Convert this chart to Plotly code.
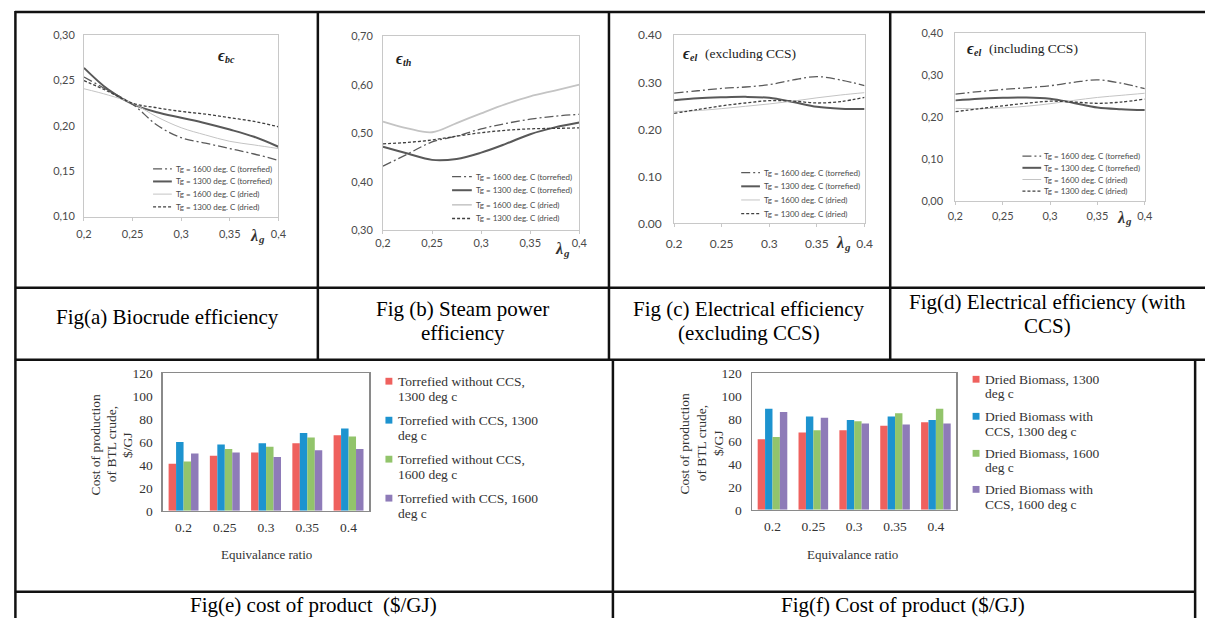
import plotly.graph_objects as go

W, H = 1213, 626

# ---------------- data ----------------
lam = [0.2, 0.225, 0.25, 0.275, 0.3, 0.325, 0.35, 0.375, 0.4]
lam_ticks = [0.2, 0.25, 0.3, 0.35, 0.4]
lam_text_comma = ["0,2", "0,25", "0,3", "0,35", "0,4"]
lam_text_dot = ["0.2", "0.25", "0.3", "0.35", "0.4"]
series_names = ["Tg = 1600 deg. C (torrefied)", "Tg = 1300 deg. C (torrefied)",
                "Tg = 1600 deg. C (dried)", "Tg = 1300 deg. C (dried)"]

# (a) biocrude efficiency
bc_t1600 = [0.254, 0.239, 0.224, 0.201, 0.187, 0.181, 0.175, 0.169, 0.162]
bc_t1300 = [0.264, 0.240, 0.224, 0.215, 0.209, 0.203, 0.196, 0.188, 0.177]
bc_d1600 = [0.241, 0.234, 0.225, 0.210, 0.198, 0.190, 0.183, 0.179, 0.175]
bc_d1300 = [0.250, 0.238, 0.225, 0.220, 0.216, 0.213, 0.209, 0.205, 0.199]
bc_yticks = [0.10, 0.15, 0.20, 0.25, 0.30]
bc_ytext = ["0,10", "0,15", "0,20", "0,25", "0,30"]

# (b) steam power efficiency
th_t1600 = [0.432, 0.457, 0.482, 0.494, 0.509, 0.520, 0.529, 0.535, 0.539]
th_t1300 = [0.472, 0.458, 0.445, 0.447, 0.460, 0.478, 0.498, 0.512, 0.522]
th_d1600 = [0.524, 0.510, 0.502, 0.521, 0.541, 0.560, 0.576, 0.588, 0.600]
th_d1300 = [0.478, 0.481, 0.486, 0.494, 0.501, 0.506, 0.509, 0.510, 0.511]
th_yticks = [0.30, 0.40, 0.50, 0.60, 0.70]
th_ytext = ["0,30", "0,40", "0,50", "0,60", "0,70"]

# (c) electrical efficiency excluding CCS
elx_t1600 = [0.277, 0.282, 0.287, 0.290, 0.295, 0.305, 0.312, 0.305, 0.293]
elx_t1300 = [0.262, 0.266, 0.268, 0.269, 0.267, 0.258, 0.248, 0.244, 0.243]
elx_d1600 = [0.238, 0.240, 0.244, 0.249, 0.254, 0.260, 0.267, 0.273, 0.278]
elx_d1300 = [0.234, 0.242, 0.250, 0.256, 0.261, 0.260, 0.256, 0.259, 0.268]
el_yticks = [0.0, 0.1, 0.2, 0.3, 0.4]
elx_ytext = ["0.00", "0.10", "0.20", "0.30", "0.40"]

# (d) electrical efficiency including CCS
eli_t1600 = [0.255, 0.261, 0.266, 0.270, 0.275, 0.283, 0.289, 0.281, 0.268]
eli_t1300 = [0.240, 0.244, 0.246, 0.247, 0.244, 0.234, 0.223, 0.219, 0.217]
eli_d1600 = [0.221, 0.220, 0.222, 0.226, 0.232, 0.240, 0.247, 0.252, 0.257]
eli_d1300 = [0.213, 0.220, 0.227, 0.233, 0.238, 0.236, 0.233, 0.236, 0.243]
eli_ytext = ["0,00", "0,10", "0,20", "0,30", "0,40"]

# (e) / (f) cost of product
eq_ratio = ["0.2", "0.25", "0.3", "0.35", "0.4"]
e_names = ["Torrefied without CCS,|1300 deg c", "Torrefied with CCS, 1300|deg c",
           "Torrefied without CCS,|1600 deg c", "Torrefied with CCS, 1600|deg c"]
e_t1300 = [41, 48, 51, 59, 66]
e_t1300_ccs = [60, 58, 59, 68, 72]
e_t1600 = [43, 54, 56, 64, 65]
e_t1600_ccs = [50, 51, 47, 53, 54]
f_names = ["Dried Biomass, 1300|deg c", "Dried Biomass with|CCS, 1300 deg c",
           "Dried Biomass, 1600|deg c", "Dried Biomass with|CCS, 1600 deg c"]
f_d1300 = [62, 68, 70, 74, 77]
f_d1300_ccs = [89, 82, 79, 82, 79]
f_d1600 = [64, 70, 78, 85, 89]
f_d1600_ccs = [86, 81, 76, 75, 76]
cost_yticks = [0, 20, 40, 60, 80, 100, 120]

captions = [
    ("Fig(a) Biocrude efficiency", 162, [317]),
    ("Fig (b) Steam power|efficiency", 461, [309, 334]),
    ("Fig (c) Electrical efficiency|(excluding CCS)", 751, [309, 334]),
    ("Fig(d) Electrical efficiency (with|CCS)", 1053, [302, 326]),
    ("Fig(e) cost of product  ($/GJ)", 310, [613]),
    ("Fig(f) Cost of product ($/GJ)", 907, [613]),
]

# ---------------- styles ----------------
line_styles = [
    dict(color="#5a5a5a", width=1.3, dash="9px,3px,2px,3px"),
    dict(color="#595959", width=2.0, dash="solid"),
    dict(color="#c4c4c4", width=1.2, dash="solid"),
    dict(color="#404040", width=1.3, dash="3px,2px"),
]
bar_colors = ["#EF615E", "#1D93CF", "#92C46B", "#8E7BB8"]
SERIF = "Liberation Serif"
SANS = "Lato"


def px_x(x):
    return x / W


def px_y(y):
    return 1 - y / H


def dom_x(x0, x1):
    return [x0 / W, x1 / W]


def dom_y(y0, y1):
    return [1 - y1 / H, 1 - y0 / H]


fig = go.Figure()
annotations = []
shapes = []


def ann(x, y, text, size, family=SERIF, color="#000000", xanchor="center",
        yanchor="middle", textangle=0, weight="normal", style="normal"):
    annotations.append(dict(x=px_x(x), y=px_y(y), xref="paper", yref="paper",
                            text=text, showarrow=False, xanchor=xanchor,
                            yanchor=yanchor, textangle=textangle,
                            font=dict(family=family, size=size, color=color,
                                      weight=weight, style=style)))


def symbol_with_sub(x0, y, main, sub, size_main, size_sub, color):
    # main glyph ends near x0, subscript starts just after it and sits lower
    ann(x0 + 1, y, main, size_main, color=color, xanchor="right",
        weight="bold", style="italic")
    ann(x0 - 3, y + 4, sub, size_sub, color=color, xanchor="left",
        weight="bold", style="italic")


# ---------------- line panels ----------------
line_panels = [
    dict(ax="", data=[bc_t1600, bc_t1300, bc_d1600, bc_d1300], xd=(77, 274), yd=(28, 214),
         yr=[0.10, 0.30], yt=bc_yticks, ytx=bc_ytext, xtx=lam_text_comma, fs=11,
         sx=4, sy=6, light_w=1.0,
         sub="bc", epos=(221, 49), extra=None,
         lam=(254, 233),
         leg=dict(lx=(147, 166), tx=168, ys=[165, 178, 191, 204])),
    dict(ax="2", data=[th_t1600, th_t1300, th_d1600, th_d1300], xd=(380, 579), yd=(29, 228),
         yr=[0.30, 0.70], yt=th_yticks, ytx=th_ytext, xtx=lam_text_comma, fs=11,
         sx=0, sy=7, light_w=1.8,
         sub="th", epos=(401, 52), extra=None,
         lam=(563, 247),
         leg=dict(lx=(450, 470), tx=472, ys=[173, 187, 202, 216])),
    dict(ax="3", data=[elx_t1600, elx_t1300, elx_d1600, elx_d1300], xd=(675, 868), yd=(28, 221),
         yr=[0.0, 0.40], yt=el_yticks, ytx=elx_ytext, xtx=lam_text_dot, fs=12,
         sx=6, sy=9, light_w=1.0,
         sub="el", epos=(692, 47), extra=("(excluding CCS)", 704),
         lam=(848, 241),
         leg=dict(lx=(743, 762), tx=764, ys=[169, 183, 197, 211])),
    dict(ax="4", data=[eli_t1600, eli_t1300, eli_d1600, eli_d1300], xd=(960, 1152), yd=(26, 198),
         yr=[0.0, 0.40], yt=el_yticks, ytx=eli_ytext, xtx=lam_text_comma, fs=11,
         sx=2, sy=9, light_w=1.0,
         sub="el", epos=(980, 42), extra=("(including CCS)", 992),
         lam=(1133, 215),
         leg=dict(lx=(1028, 1047), tx=1048, ys=[152, 164, 176, 188])),
]

layout_axes = {}
for p in line_panels:
    ax = p["ax"]
    for i, (ys, st) in enumerate(zip(p["data"], line_styles)):
        st = dict(st)
        if i == 2:
            st["width"] = p["light_w"]
        fig.add_trace(go.Scatter(x=lam, y=ys, mode="lines", name=series_names[i],
                                 line=dict(shape="spline", smoothing=1.0, **st),
                                 xaxis="x" + ax, yaxis="y" + ax, showlegend=False,
                                 hoverinfo="skip"))
    layout_axes["xaxis" + ax] = dict(
        domain=dom_x(*p["xd"]), anchor="y" + ax, range=[0.2, 0.4],
        tickvals=lam_ticks, ticktext=p["xtx"], showgrid=False, zeroline=False,
        showline=True, linecolor="#c8c8c8", linewidth=1, mirror=True,
        ticks="outside", ticklen=3, tickcolor="#c8c8c8",
        ticklabelstandoff=p["sx"],
        tickfont=dict(family=SANS, size=p["fs"], color="#4a4a4a"), fixedrange=True)
    layout_axes["yaxis" + ax] = dict(
        domain=dom_y(*p["yd"]), anchor="x" + ax, range=p["yr"],
        tickvals=p["yt"], ticktext=p["ytx"], showgrid=False, zeroline=False,
        showline=True, linecolor="#c8c8c8", linewidth=1, mirror=True,
        ticks="", ticklabelstandoff=p["sy"],
        tickfont=dict(family=SANS, size=p["fs"], color="#4a4a4a"), fixedrange=True)
    symbol_with_sub(p["epos"][0], p["epos"][1], "ϵ", p["sub"], 16, 10, "#222222")
    if p["extra"]:
        ann(p["extra"][1], p["epos"][1], p["extra"][0], 13.5, family=SERIF,
            color="#222222", xanchor="left")
    symbol_with_sub(p["lam"][0], p["lam"][1], "λ", "g", 16, 11, "#333333")
    lg = p["leg"]
    for i, y in enumerate(lg["ys"]):
        st = dict(line_styles[i])
        if i == 2:
            st["width"] = max(1.0, p["light_w"] - 0.3)
        shapes.append(dict(type="line", xref="paper", yref="paper",
                           x0=px_x(lg["lx"][0]), x1=px_x(lg["lx"][1]),
                           y0=px_y(y), y1=px_y(y), line=st))
        ann(lg["tx"], y, series_names[i], 8, family=SANS, color="#4a4a4a",
            xanchor="left")

# ---------------- bar panels ----------------
bar_panels = [
    dict(ax="5", names=e_names, data=[e_t1300, e_t1300_ccs, e_t1600, e_t1600_ccs],
         xd=(157, 366), yd=(375, 516), ytitle_x=[89, 105, 121], ytitle_y=448,
         xtitle=(262, 561), leg_sq=386, leg_tx=393,
         leg_y=[(383, 399), (423, 439), (463, 479), (503, 519)]),
    dict(ax="6", names=f_names, data=[f_d1300, f_d1300_ccs, f_d1600, f_d1600_ccs],
         xd=(754, 961), yd=(375, 515), ytitle_x=[686, 703, 720], ytitle_y=447,
         xtitle=(856, 561), leg_sq=981, leg_tx=988,
         leg_y=[(381, 396), (419, 435), (457, 472), (494, 510)]),
]
for p in bar_panels:
    ax = p["ax"]
    for i, vals in enumerate(p["data"]):
        fig.add_trace(go.Bar(x=eq_ratio, y=vals, name=p["names"][i].replace("|", " "),
                             marker=dict(color=bar_colors[i], line=dict(width=0)),
                             xaxis="x" + ax, yaxis="y" + ax, showlegend=False,
                             hoverinfo="skip"))
    layout_axes["xaxis" + ax] = dict(
        domain=dom_x(*p["xd"]), anchor="y" + ax, type="category",
        showgrid=False, zeroline=False, showline=True, linecolor="#8a8a8a",
        linewidth=1.5, mirror=True, ticks="", ticklabelstandoff=3,
        tickfont=dict(family=SERIF, size=13.5, color="#333333"), fixedrange=True)
    layout_axes["yaxis" + ax] = dict(
        domain=dom_y(*p["yd"]), anchor="x" + ax, range=[0, 120],
        tickvals=cost_yticks, showgrid=False, zeroline=False, showline=True,
        linecolor="#8a8a8a", linewidth=1.5, mirror=True, ticks="",
        ticklabelstandoff=6,
        tickfont=dict(family=SERIF, size=13.5, color="#333333"), fixedrange=True)
    for x, t in zip(p["ytitle_x"], ["Cost of production", "of BTL crude,", "$/GJ"]):
        ann(x, p["ytitle_y"], t, 13.5, family=SERIF, color="#333333", textangle=-90)
    ann(p["xtitle"][0], p["xtitle"][1], "Equivalance ratio", 13, family=SERIF,
        color="#333333")
    for i, (y1, y2) in enumerate(p["leg_y"]):
        l1, l2 = p["names"][i].split("|")
        shapes.append(dict(type="rect", xref="paper", yref="paper",
                           x0=px_x(p["leg_sq"] - 3.5), x1=px_x(p["leg_sq"] + 3.5),
                           y0=px_y(y1 + 3.5), y1=px_y(y1 - 3.5),
                           fillcolor=bar_colors[i], line=dict(width=0)))
        ann(p["leg_tx"], y1, l1, 13.5, family=SERIF, color="#333333", xanchor="left")
        ann(p["leg_tx"], y2, l2, 13.5, family=SERIF, color="#333333", xanchor="left")

# ---------------- captions ----------------
for text, cx, ys in captions:
    for line, y in zip(text.split("|"), ys):
        ann(cx, y, line, 21, family=SERIF, color="#000000")

# ---------------- table grid ----------------
grid_lines = [
    (7, 4, 1213, 4), (7, 287, 1213, 287), (7, 361, 1213, 361), (7, 599, 1203, 599),
    (7.5, 3, 7.5, 626), (314, 4, 314, 361), (609, 4, 609, 361), (894, 4, 894, 361),
    (613, 361, 613, 626), (1203, 361, 1203, 626),
]
for x0, y0, x1, y1 in grid_lines:
    shapes.append(dict(type="line", xref="paper", yref="paper",
                       x0=px_x(x0), y0=px_y(y0), x1=px_x(x1), y1=px_y(y1),
                       line=dict(color="#111111", width=2.5)))

fig.update_layout(
    width=W, height=H, autosize=False,
    margin=dict(l=0, r=0, t=0, b=0),
    paper_bgcolor="white", plot_bgcolor="white",
    barmode="group", bargap=0.275, bargroupgap=0.0,
    showlegend=False,
    annotations=annotations, shapes=shapes,
    **layout_axes,
)

fig.write_html(
    "out.html",
    config={"displayModeBar": False, "responsive": False, "staticPlot": True},
    post_script=(
        "document.documentElement.style.margin='0';"
        "document.documentElement.style.overflow='hidden';"
        "document.body.style.margin='0';document.body.style.padding='0';"
        "document.body.style.overflow='hidden';"
        "var gd=document.getElementById('{plot_id}');"
        "gd.style.position='fixed';gd.style.left='0px';gd.style.top='0px';"
    ),
)
